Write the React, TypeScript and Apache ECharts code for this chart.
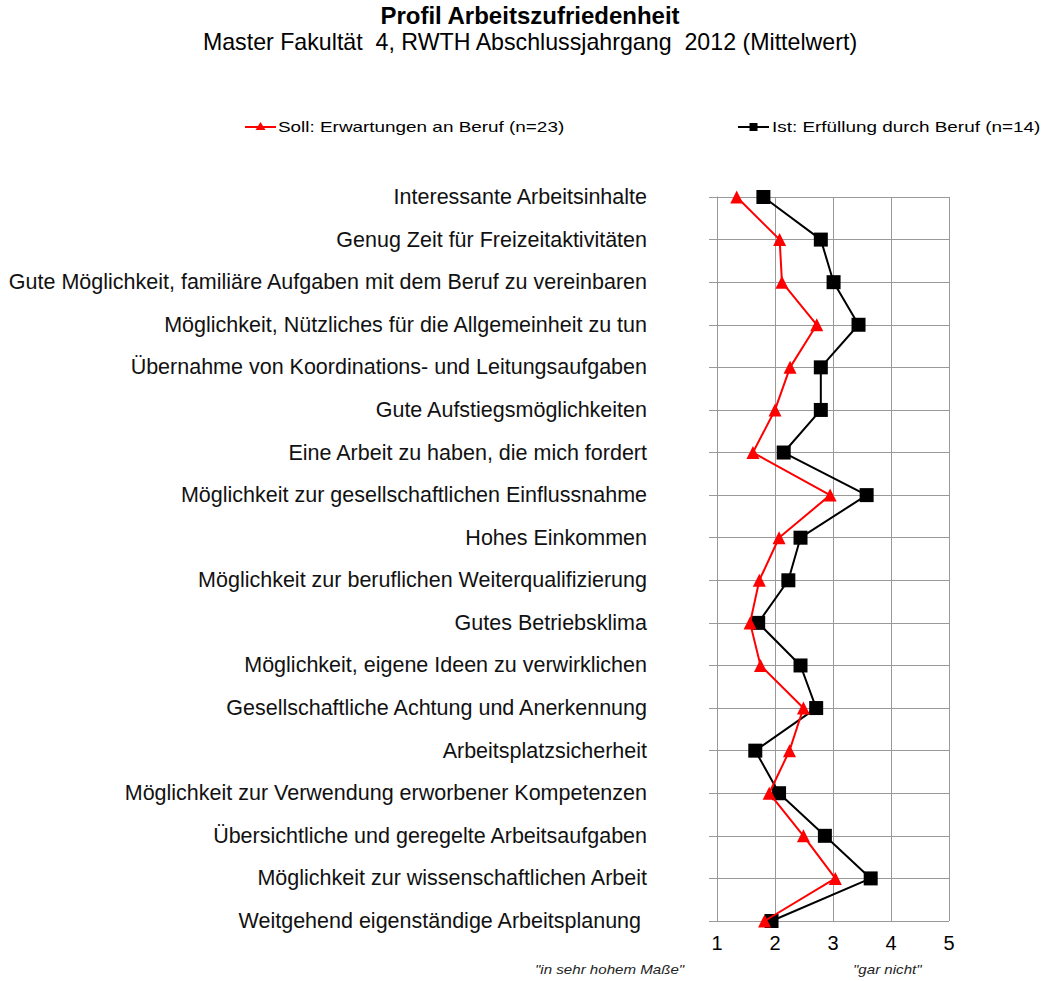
import React, { useEffect, useRef } from "react";
import * as echarts from "echarts";

const categories = [
  "Interessante Arbeitsinhalte",
  "Genug Zeit für Freizeitaktivitäten",
  "Gute Möglichkeit, familiäre Aufgaben mit dem Beruf zu vereinbaren",
  "Möglichkeit, Nützliches für die Allgemeinheit zu tun",
  "Übernahme von Koordinations- und Leitungsaufgaben",
  "Gute Aufstiegsmöglichkeiten",
  "Eine Arbeit zu haben, die mich fordert",
  "Möglichkeit zur gesellschaftlichen Einflussnahme",
  "Hohes Einkommen",
  "Möglichkeit zur beruflichen Weiterqualifizierung",
  "Gutes Betriebsklima",
  "Möglichkeit, eigene Ideen zu verwirklichen",
  "Gesellschaftliche Achtung und Anerkennung",
  "Arbeitsplatzsicherheit",
  "Möglichkeit zur Verwendung erworbener Kompetenzen",
  "Übersichtliche und geregelte Arbeitsaufgaben",
  "Möglichkeit zur wissenschaftlichen Arbeit",
  "Weitgehend eigenständige Arbeitsplanung ",
];

const sollName = "Soll: Erwartungen an Beruf (n=23)";
const istName = "Ist: Erfüllung durch Beruf (n=14)";

const sollValues = [1.34, 2.08, 2.12, 2.72, 2.26, 2.0, 1.62, 2.95, 2.07, 1.73, 1.57, 1.75, 2.49, 2.25, 1.9, 2.49, 3.04, 1.82];
const istValues = [1.8, 2.79, 3.01, 3.44, 2.79, 2.79, 2.15, 3.58, 2.44, 2.23, 1.71, 2.44, 2.71, 1.66, 2.07, 2.86, 3.65, 1.94];

const xTicks = [1, 2, 3, 4, 5];

const titleText = "Profil Arbeitszufriedenheit";
const subtitleText = "Master Fakultät  4, RWTH Abschlussjahrgang  2012 (Mittelwert)";

export default function App() {
  const ref = useRef<HTMLDivElement>(null);
  useEffect(() => {
    if (!ref.current) return;
    const chart = echarts.init(ref.current, null, { renderer: "svg" });
    const font = "Liberation Sans, Arial, sans-serif";
    const legendY = 127;
    chart.setOption({
      animation: false,
      backgroundColor: "#ffffff",
      textStyle: { fontFamily: font },
      legend: { show: false, data: [sollName, istName] },
      grid: { left: 717, right: 94, top: 197, bottom: 60, containLabel: false },
      xAxis: {
        type: "value",
        min: 1,
        max: 5,
        interval: 1,
        axisLine: { show: false },
        axisTick: { show: false },
        axisLabel: {
          margin: 12,
          fontSize: 20,
          color: "#000",
          fontFamily: font,
          formatter: (v: number) => (xTicks.includes(v) ? String(v) : ""),
        },
        splitLine: { show: true, lineStyle: { color: "#999", width: 1 } },
      },
      yAxis: {
        type: "category",
        data: categories,
        inverse: true,
        boundaryGap: false,
        axisLine: { show: true, lineStyle: { color: "#999", width: 1 } },
        axisTick: { show: true, length: 8, lineStyle: { color: "#999" } },
        axisLabel: { margin: 70, fontSize: 21.5, color: "#111", fontFamily: font },
        splitLine: { show: true, lineStyle: { color: "#999", width: 1 } },
      },
      series: [
        {
          name: sollName,
          type: "line",
          data: sollValues,
          symbol: "triangle",
          symbolSize: 13,
          lineStyle: { color: "#ff0000", width: 2 },
          itemStyle: { color: "#ff0000" },
          z: 3,
        },
        {
          name: istName,
          type: "line",
          data: istValues,
          symbol: "rect",
          symbolSize: 14,
          lineStyle: { color: "#000000", width: 2 },
          itemStyle: { color: "#000000" },
          z: 2,
        },
      ],
      graphic: [
        // title
        {
          type: "text",
          x: 530,
          y: 15,
          style: { text: titleText, fontFamily: font, fontSize: 24, fontWeight: "bold", fill: "#000", align: "center", verticalAlign: "middle" },
        },
        {
          type: "text",
          x: 530,
          y: 42,
          style: { text: subtitleText, fontFamily: font, fontSize: 23.2, fill: "#000", align: "center", verticalAlign: "middle" },
        },
        // legend: Soll
        { type: "line", shape: { x1: 245, y1: legendY, x2: 276, y2: legendY }, style: { stroke: "#ff0000", lineWidth: 2 } },
        {
          type: "polygon",
          shape: { points: [[260.5, legendY - 5], [265.5, legendY + 3], [255.5, legendY + 3]] },
          style: { fill: "#ff0000" },
        },
        {
          type: "text",
          x: 278,
          y: legendY,
          scaleX: 1.35,
          style: { text: sollName, fontFamily: font, fontSize: 14, fill: "#000", verticalAlign: "middle" },
        },
        // legend: Ist
        { type: "line", shape: { x1: 738, y1: legendY, x2: 769, y2: legendY }, style: { stroke: "#000", lineWidth: 2 } },
        { type: "rect", shape: { x: 749.5, y: legendY - 4, width: 8, height: 8 }, style: { fill: "#000" } },
        {
          type: "text",
          x: 772,
          y: legendY,
          scaleX: 1.35,
          style: { text: istName, fontFamily: font, fontSize: 14, fill: "#000", verticalAlign: "middle" },
        },
        // axis notes
        {
          type: "text",
          x: 535,
          y: 970,
          scaleX: 1.26,
          style: { text: "\"in sehr hohem Maße\"", fontFamily: font, fontSize: 12, fontStyle: "italic", fill: "#222", verticalAlign: "middle" },
        },
        {
          type: "text",
          x: 853,
          y: 970,
          scaleX: 1.26,
          style: { text: "\"gar nicht\"", fontFamily: font, fontSize: 12, fontStyle: "italic", fill: "#222", verticalAlign: "middle" },
        },
      ],
    });
    return () => chart.dispose();
  }, []);
  return <div ref={ref} style={{ width: 1043, height: 981, position: "absolute", left: 0, top: 0 }} />;
}
